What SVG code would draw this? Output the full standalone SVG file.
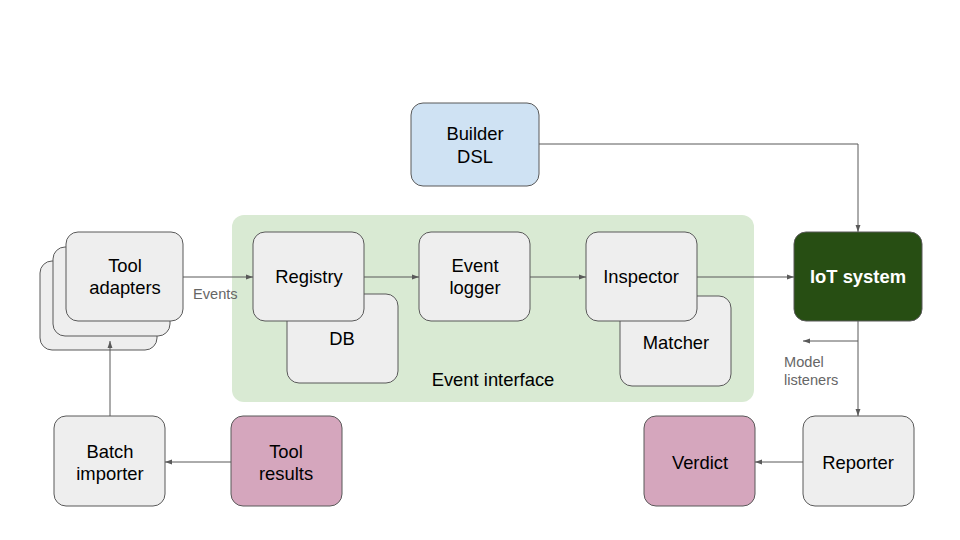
<svg xmlns="http://www.w3.org/2000/svg" width="960" height="540" viewBox="0 0 960 540">
<defs>
<style>
.n{fill:#eeeeee;stroke:#595959;stroke-width:1}
.t{font-family:"Liberation Sans",Arial,sans-serif;font-size:18.4px;fill:#000;text-anchor:middle}
.l{font-family:"Liberation Sans",Arial,sans-serif;font-size:14.6px;fill:#666}
.c{fill:none;stroke:#595959;stroke-width:1}
</style>
<marker id="a" viewBox="0 0 10 10" refX="10" refY="5" markerWidth="7" markerHeight="7" orient="auto" markerUnits="userSpaceOnUse">
<path d="M0,1.5 L10,5 L0,8.5 z" fill="#595959"/>
</marker>
</defs>
<rect width="960" height="540" fill="#fff"/>
<g id="event-interface">
<rect x="232" y="215" width="522" height="187" rx="12" fill="#d9ead3"/>
<text class="t" x="493" y="386">Event interface</text>
</g>
<g id="tool-adapters">
<rect class="n" x="40" y="261" width="117" height="89" rx="12"/>
<rect class="n" x="53" y="247" width="117" height="89" rx="12"/>
<rect class="n" x="66" y="232" width="117" height="89" rx="12"/>
<text class="t" x="125" y="272">Tool</text>
<text class="t" x="125" y="294">adapters</text>
</g>
<g id="db">
<rect class="n" x="287" y="294" width="111" height="89" rx="12"/>
<text class="t" x="342" y="345">DB</text>
</g>
<g id="registry">
<rect class="n" x="253" y="232" width="111" height="89" rx="12"/>
<text class="t" x="309" y="283">Registry</text>
</g>
<g id="event-logger">
<rect class="n" x="419" y="232" width="111" height="89" rx="12"/>
<text class="t" x="475" y="272">Event</text>
<text class="t" x="475" y="294">logger</text>
</g>
<g id="matcher">
<rect class="n" x="620" y="296" width="111" height="90" rx="12"/>
<text class="t" x="676" y="349">Matcher</text>
</g>
<g id="inspector">
<rect class="n" x="586" y="232" width="111" height="89" rx="12"/>
<text class="t" x="641" y="283">Inspector</text>
</g>
<g id="builder-dsl">
<rect x="411" y="103" width="128" height="83" rx="12" fill="#cfe2f3" stroke="#595959"/>
<text class="t" x="475" y="140">Builder</text>
<text class="t" x="475" y="163">DSL</text>
</g>
<g id="iot-system">
<rect x="794" y="232" width="128" height="89" rx="12" fill="#274e13" stroke="#595959"/>
<text class="t" x="858" y="283" style="fill:#fff;font-weight:bold">IoT system</text>
</g>
<g id="reporter">
<rect class="n" x="803" y="416" width="111" height="90" rx="12"/>
<text class="t" x="858" y="469">Reporter</text>
</g>
<g id="verdict">
<rect x="644" y="416" width="111" height="90" rx="12" fill="#d5a6bd" stroke="#595959"/>
<text class="t" x="700" y="469">Verdict</text>
</g>
<g id="tool-results">
<rect x="231" y="416" width="111" height="90" rx="12" fill="#d5a6bd" stroke="#595959"/>
<text class="t" x="286" y="458">Tool</text>
<text class="t" x="286" y="480">results</text>
</g>
<g id="batch-importer">
<rect class="n" x="54" y="416" width="111" height="90" rx="12"/>
<text class="t" x="110" y="458">Batch</text>
<text class="t" x="110" y="480">importer</text>
</g>
<g id="connectors">
<path class="c" d="M183,277 H253" marker-end="url(#a)"/>
<text class="l" x="193" y="299">Events</text>
<path class="c" d="M364,277 H419" marker-end="url(#a)"/>
<path class="c" d="M530,277 H586" marker-end="url(#a)"/>
<path class="c" d="M697,277 H794" marker-end="url(#a)"/>
<path class="c" d="M539,144 H858 V232" marker-end="url(#a)"/>
<path class="c" d="M858,321 V416" marker-end="url(#a)"/>
<path class="c" d="M858,341 H803" marker-end="url(#a)"/>
<text class="l" x="784" y="367">Model</text>
<text class="l" x="784" y="385">listeners</text>
<path class="c" d="M803,462 H755" marker-end="url(#a)"/>
<path class="c" d="M231,462 H165" marker-end="url(#a)"/>
<path class="c" d="M110,416 V341" marker-end="url(#a)"/>
</g>
</svg>
